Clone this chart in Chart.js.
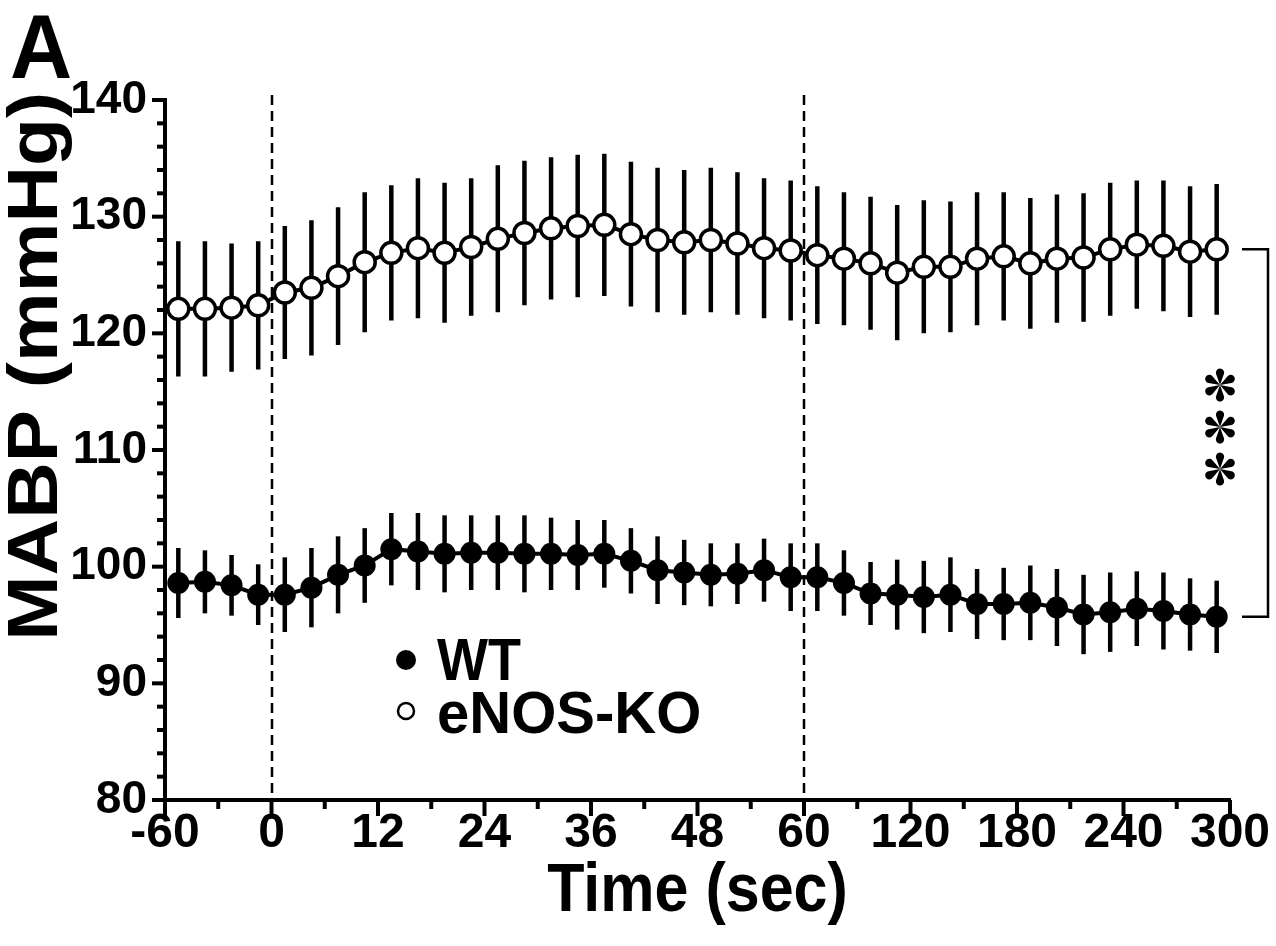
<!DOCTYPE html>
<html>
<head>
<meta charset="utf-8">
<script src="https://cdn.jsdelivr.net/npm/chart.js@4.4.1/dist/chart.umd.min.js"></script>
<style>
    html, body { margin: 0; padding: 0; background: #fff; }
    #wrap { width: 1276px; height: 946px; }
</style>
</head>
<body>
<div id="wrap"><canvas id="mabpChart" width="1276" height="946"></canvas></div>
<script>
// x axis is piecewise: -60..0 and 60..300 in 15 s bins, 0..60 in 3 s bins
const xTickLabels = ['-60', '0', '12', '24', '36', '48', '60', '120', '180', '240', '300'];
const timePoints = [-52.5, -37.5, -22.5, -7.5,
    1.5, 4.5, 7.5, 10.5, 13.5, 16.5, 19.5, 22.5, 25.5, 28.5,
    31.5, 34.5, 37.5, 40.5, 43.5, 46.5, 49.5, 52.5, 55.5, 58.5,
    67.5, 82.5, 97.5, 112.5, 127.5, 142.5, 157.5, 172.5,
    187.5, 202.5, 217.5, 232.5, 247.5, 262.5, 277.5, 292.5];

const wtMean = [98.6, 98.7, 98.4, 97.6, 97.6, 98.2, 99.3, 100.1, 101.5, 101.3,
    101.1, 101.2, 101.2, 101.1, 101.1, 101.0, 101.1, 100.5, 99.7, 99.5,
    99.3, 99.4, 99.7, 99.1, 99.1, 98.6, 97.7, 97.6, 97.4, 97.6,
    96.8, 96.8, 96.9, 96.5, 95.9, 96.1, 96.4, 96.2, 95.9, 95.7];
const wtSem = [3.0, 2.7, 2.6, 2.6, 3.2, 3.4, 3.3, 3.2, 3.1, 3.3,
    3.3, 3.2, 3.2, 3.3, 3.1, 3.0, 2.9, 2.8, 2.9, 2.8,
    2.7, 2.6, 2.7, 2.9, 2.9, 2.8, 2.7, 3.0, 3.1, 3.2,
    3.0, 3.1, 3.2, 3.3, 3.4, 3.4, 3.2, 3.3, 3.1, 3.1];

const koMean = [122.1, 122.1, 122.2, 122.4, 123.5, 123.9, 124.9, 126.1, 126.9, 127.3,
    126.9, 127.4, 128.1, 128.6, 129.0, 129.2, 129.3, 128.5, 128.0, 127.8,
    128.0, 127.7, 127.3, 127.1, 126.7, 126.4, 126.0, 125.2, 125.7, 125.7,
    126.4, 126.6, 126.0, 126.4, 126.5, 127.2, 127.6, 127.5, 127.0, 127.2];
const koSem = [5.8, 5.8, 5.5, 5.5, 5.7, 5.8, 5.9, 6.0, 5.8, 6.0,
    6.0, 5.9, 6.3, 6.2, 6.1, 6.1, 6.1, 6.2, 6.2, 6.2,
    6.2, 6.1, 6.0, 6.0, 5.9, 5.7, 5.7, 5.8, 5.7, 5.6,
    5.7, 5.5, 5.6, 5.5, 5.5, 5.7, 5.5, 5.6, 5.6, 5.6];

const FONT = "'Liberation Sans', Arial, Helvetica, sans-serif";

// seconds -> position on the bin axis
function toAxis(t) {
    if (t < 0) return (t + 60) / 15;
    if (t <= 60) return 4 + t / 3;
    return 24 + (t - 60) / 15;
}

// text drawn a bit taller than the font, like the exported figure
function stretchedText(c, text, x, y, opts) {
    c.save();
    c.translate(x, y);
    if (opts.rotate) c.rotate(opts.rotate);
    c.scale(opts.sx || 1, opts.sy || 1);
    c.font = opts.font;
    c.textAlign = opts.align || 'left';
    c.textBaseline = opts.baseline || 'alphabetic';
    c.fillText(text, 0, 0);
    c.restore();
}

// six teardrop spokes
function asterisk(c, cx, cy, r) {
    const rt = r * 0.25;
    const d = r - rt;
    const beta = Math.acos(rt / d);
    for (let k = 0; k < 6; k++) {
        const a = -Math.PI / 2 + k * Math.PI / 3;
        const tx = cx + d * Math.cos(a);
        const ty = cy + d * Math.sin(a);
        c.beginPath();
        c.moveTo(cx, cy);
        c.arc(tx, ty, rt, a + Math.PI + beta, a + 3 * Math.PI - beta, false);
        c.closePath();
        c.fill();
    }
}

const errorBars = {
    id: 'errorBars',
    beforeDatasetsDraw(chart) {
        const c = chart.ctx;
        const {x, y} = chart.scales;
        const sems = [wtSem, koSem];
        const means = [wtMean, koMean];
        c.save();
        c.strokeStyle = '#000';

        // dashed period markers at 0 and 60 s
        c.save();
        c.lineWidth = 2.5;
        c.setLineDash([10, 6]);
        [0, 60].forEach(t => {
            const px = Math.round(x.getPixelForValue(toAxis(t)));
            c.beginPath();
            c.moveTo(px, chart.chartArea.top - 5);
            c.lineTo(px, chart.chartArea.bottom);
            c.stroke();
        });
        c.restore();

        c.lineWidth = 4.5;
        c.lineCap = 'butt';
        chart.data.datasets.forEach((ds, di) => {
            const meta = chart.getDatasetMeta(di);
            meta.data.forEach((pt, i) => {
                c.beginPath();
                c.moveTo(pt.x, y.getPixelForValue(means[di][i] + sems[di][i]));
                c.lineTo(pt.x, y.getPixelForValue(means[di][i] - sems[di][i]));
                c.stroke();
            });
        });
        c.restore();
    }
};

const decor = {
    id: 'decor',
    afterDraw(chart) {
        const c = chart.ctx;
        const {x, y} = chart.scales;
        const area = chart.chartArea;
        c.save();
        c.strokeStyle = '#000';
        c.fillStyle = '#000';
        c.lineWidth = 4;
        // tick marks, long ones where a label sits
        x.ticks.forEach(t => {
            const px = x.getPixelForValue(t.value);
            const len = t.label ? 16 : 9;
            c.beginPath();
            c.moveTo(px, area.bottom);
            c.lineTo(px, area.bottom + len);
            c.stroke();
        });
        y.ticks.forEach(t => {
            const py = y.getPixelForValue(t.value);
            const len = t.label ? 13 : 8;
            c.beginPath();
            c.moveTo(area.left, py);
            c.lineTo(area.left - len, py);
            c.stroke();
        });

        // axis titles
        stretchedText(c, 'MABP (mmHg)', 38, area.top - 8, {
            rotate: -Math.PI / 2, sx: 1.12, font: 'bold 70px ' + FONT,
            align: 'right', baseline: 'middle'
        });
        stretchedText(c, 'Time (sec)', (area.left + area.right) / 2, 911, {
            sy: 1.13, font: 'bold 61px ' + FONT, align: 'center'
        });

        // significance bracket between last points
        const last = koMean.length - 1;
        const yTop = y.getPixelForValue(koMean[last]);
        const yBot = y.getPixelForValue(wtMean[last]);
        c.lineWidth = 2.5;
        c.beginPath();
        c.moveTo(area.right + 12, yTop);
        c.lineTo(area.right + 38, yTop);
        c.lineTo(area.right + 38, yBot);
        c.lineTo(area.right + 12, yBot);
        c.stroke();

        const midY = (yTop + yBot) / 2;
        [-42, 0, 42].forEach(d => asterisk(c, area.right - 10, midY - 6 + d, 16.5));

        // legend
        c.beginPath();
        c.arc(area.left + 241, area.top + 560, 10, 0, Math.PI * 2);
        c.fill();
        stretchedText(c, 'WT', area.left + 272, area.top + 580, {
            sy: 1.1, font: 'bold 54px ' + FONT
        });
        c.lineWidth = 2.5;
        c.beginPath();
        c.arc(area.left + 241, area.top + 611, 8, 0, Math.PI * 2);
        c.stroke();
        stretchedText(c, 'eNOS-KO', area.left + 272, area.top + 633, {
            sy: 1.02, font: 'bold 58px ' + FONT
        });

        // panel letter
        stretchedText(c, 'A', 10, 78, {sy: 1.05, font: 'bold 86px ' + FONT});
        c.restore();
    }
};

Chart.defaults.font.family = FONT;
Chart.defaults.color = '#000';

const ctx = document.getElementById('mabpChart').getContext('2d');

new Chart(ctx, {
    type: 'line',
    data: {
        datasets: [{
            label: 'WT',
            data: timePoints.map((t, i) => ({x: toAxis(t), y: wtMean[i]})),
            borderColor: '#000',
            borderWidth: 4,
            pointRadius: 11,
            pointBackgroundColor: '#000',
            pointBorderColor: '#000',
            pointBorderWidth: 0,
            tension: 0,
            clip: false
        }, {
            label: 'eNOS-KO',
            data: timePoints.map((t, i) => ({x: toAxis(t), y: koMean[i]})),
            borderColor: '#000',
            borderWidth: 4,
            pointRadius: 10.5,
            pointBackgroundColor: '#fff',
            pointBorderColor: '#000',
            pointBorderWidth: 3.5,
            tension: 0,
            clip: false
        }]
    },
    options: {
        responsive: false,
        animation: false,
        layout: {
            padding: {top: 100, right: 46, left: 0, bottom: 0}
        },
        plugins: {
            legend: {display: false},
            tooltip: {enabled: false}
        },
        scales: {
            x: {
                type: 'linear',
                min: 0,
                max: 40,
                afterBuildTicks: (scale) => {
                    const ticks = [];
                    for (let v = 0; v <= 40; v += 2) ticks.push({value: v});
                    scale.ticks = ticks;
                },
                afterFit: (scale) => { scale.height = 146; },
                grid: {display: false, drawTicks: false},
                border: {display: true, color: '#000', width: 4},
                ticks: {
                    autoSkip: false,
                    maxRotation: 0,
                    padding: 5,
                    color: '#000',
                    font: {size: 48, weight: 'bold'},
                    callback: (v) => v % 4 === 0 ? xTickLabels[v / 4] : ''
                }
            },
            y: {
                min: 80,
                max: 140,
                afterBuildTicks: (scale) => {
                    const ticks = [];
                    for (let v = 80; v <= 140; v += 2) ticks.push({value: v});
                    scale.ticks = ticks;
                },
                afterFit: (scale) => { scale.width = 165; },
                grid: {display: false, drawTicks: false},
                border: {display: true, color: '#000', width: 4},
                ticks: {
                    autoSkip: false,
                    padding: 18,
                    color: '#000',
                    font: {size: 46, weight: 'bold'},
                    callback: (v) => v % 10 === 0 ? String(v) : ''
                }
            }
        }
    },
    plugins: [errorBars, decor]
});
</script>
</body>
</html>
